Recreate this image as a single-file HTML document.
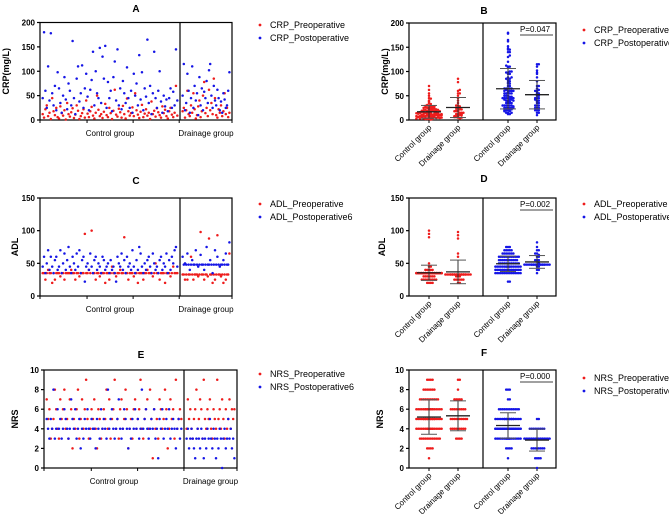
<!DOCTYPE html>
<html><head><meta charset="utf-8"><style>
body{margin:0;background:#fff}
svg{display:block;font-family:"Liberation Sans",Arial,sans-serif}
</style></head><body>
<svg id="fig" width="669" height="514" viewBox="0 0 669 514" xmlns="http://www.w3.org/2000/svg"></svg>
<script>
// ===== Data =====
const groups = ["Control group","Drainage group"];
const crpPreCtrl = [12,5,22,30,8,15,2,45,18,10,25,6,3,28,14,9,20,1,35,12,7,16,24,4,11,30,19,2,8,14,22,5,40,13,6,18,27,9,3,15,50,21,8,12,4,17,33,10,6,25,14,2,19,62,11,7,23,16,5,29,12,3,44,18,9,14,26,8,55,20,11,4,17,31,6,13,22,9,15,2,38,12,19,7,24,16,10,5,28,14,21,8,3,18,25,11,6,15,70,9];
const crpPostCtrl = [45,180,60,25,110,40,178,55,30,70,20,98,65,35,15,50,88,42,22,75,60,30,162,45,12,85,110,38,55,112,25,65,95,48,20,62,82,140,30,100,55,45,148,35,130,85,152,25,78,45,60,18,88,120,40,145,30,65,22,80,55,35,108,45,25,60,15,95,50,75,30,133,42,98,20,65,48,165,35,70,12,55,140,45,25,60,100,38,15,50,28,42,18,45,65,25,58,30,145,40];
const crpPreDrain = [18,25,5,20,60,12,8,30,15,55,22,3,10,28,40,6,18,50,78,14,25,8,62,20,35,12,85,45,10,5,22,15,30,8,18,55,12,25,6,15];
const crpPostDrain = [50,115,20,35,95,60,15,45,110,25,70,40,55,10,88,30,65,20,58,45,80,35,102,115,50,25,70,40,30,62,45,20,38,15,55,42,25,30,60,98];
const adlPreCtrl = [35,35,25,35,40,35,35,20,35,25,35,35,35,30,35,35,25,35,35,35,35,40,35,35,25,35,35,30,35,35,35,95,35,35,40,35,100,35,35,25,35,35,30,35,35,35,20,35,35,25,35,45,35,35,30,35,35,40,35,35,90,35,35,25,35,35,35,30,35,35,20,35,35,35,25,35,35,40,35,35,35,30,35,50,35,35,25,35,35,35,20,35,35,35,30,35,45,35,35,35];
const adlPostCtrl = [45,60,35,50,70,40,60,45,35,55,60,40,45,70,35,50,65,40,55,75,45,35,60,50,40,65,45,70,35,55,60,22,45,50,40,65,45,35,55,60,40,50,45,35,60,55,40,45,50,35,55,40,45,35,22,60,50,45,65,40,55,35,60,45,50,40,70,45,35,55,40,75,65,45,35,50,40,55,60,45,35,65,50,40,45,35,55,60,40,50,45,65,35,55,40,60,50,70,75,45];
const adlPreDrain = [33,33,25,33,25,33,33,60,33,25,33,33,33,30,33,98,33,33,25,33,33,30,88,33,33,20,33,25,33,93,33,33,30,33,20,33,25,33,33,65];
const adlPostDrain = [60,48,50,48,65,48,40,48,55,48,48,70,48,45,48,63,48,48,40,48,75,48,48,55,48,35,48,70,48,60,48,45,48,48,55,48,65,48,48,82];
const nrsPreCtrl = [7,5,6,3,4,5,8,6,4,3,7,5,6,8,4,5,3,7,6,2,5,4,6,8,3,5,7,4,6,9,5,3,4,6,5,7,4,2,6,5,3,4,6,5,8,4,7,3,5,6,9,4,5,3,6,7,4,5,8,6,2,4,5,3,6,7,4,5,6,9,4,3,5,6,7,4,8,5,1,6,4,5,3,7,6,4,5,8,6,2,4,7,5,6,3,9,4,5,6,5];
const nrsPostCtrl = [5,4,3,5,4,8,3,4,6,4,5,3,4,6,5,4,3,4,7,5,4,6,3,4,5,2,4,3,5,4,6,4,3,5,4,4,2,5,4,3,6,4,5,4,3,8,4,5,6,4,3,4,5,7,4,3,4,6,5,4,2,4,3,5,4,6,4,5,3,4,8,4,5,6,4,3,4,5,4,6,3,4,1,5,4,6,3,4,5,4,6,3,4,5,4,2,4,5,3,4];
const nrsPreDrain = [4,7,5,6,4,3,5,6,8,4,5,7,6,3,9,5,4,6,5,7,4,3,6,5,4,9,5,6,4,7,5,3,6,4,5,7,4,6,5,6];
const nrsPostDrain = [3,4,2,3,4,3,2,1,3,4,3,2,4,3,1,3,2,4,3,5,3,2,4,3,1,3,2,4,3,0,3,4,2,3,5,3,4,2,3,1];
const crpTicks = [0,50,100,150,200];
const adlTicks = [0,50,100,150];
const nrsTicks = [0,2,4,6,8,10];
const pValues = ["P=0.047","P=0.002","P=0.000"];

// ===== Helpers =====
const NS="http://www.w3.org/2000/svg";
const svg=document.getElementById('fig');
function el(tag,attrs,parent,text){const e=document.createElementNS(NS,tag);for(const k in attrs)e.setAttribute(k,attrs[k]);if(text!==undefined)e.textContent=text;(parent||svg).appendChild(e);return e;}
const RED="#ee1c1c", BLUE="#1515e6";
function mean(a){return a.reduce((s,v)=>s+v,0)/a.length;}
function sd(a){const m=mean(a);return Math.sqrt(a.reduce((s,v)=>s+(v-m)*(v-m),0)/(a.length-1));}

function yAxis(g,x0,yTop,yBot,ymax,ticks,ytitle,titleX){
  const ys=v=>yBot-(v/ymax)*(yBot-yTop);
  ticks.forEach(t=>{
    const l=el('line',{x1:x0-3,x2:x0,y1:ys(t),y2:ys(t),stroke:'#000','stroke-width':1.2},g);
    
    
    const tx=el('text',{x:x0-5,y:ys(t)+3,'text-anchor':'end','font-size':8,'font-weight':'bold'},g,t);
    
    
  });
  const cy=(yTop+yBot)/2;
  const tt=el('text',{x:titleX,y:cy,'text-anchor':'middle','font-size':9,'font-weight':'bold',transform:`rotate(-90 ${titleX} ${cy})`},g,ytitle);
  
  
  return ys;
}
function legend(g,x,y,labels){
  labels.forEach((lb,i)=>{
    const c=el('circle',{cx:x,cy:y+i*13-3,r:1.4,fill:i?BLUE:RED},g);
    
    
    const t=el('text',{x:x+10,y:y+i*13,'font-size':9},g,lb);
    
    
  });
}

function scatterPanel(o){
  const g=el('g',{});
  
  
  const t=el('text',{x:o.titleX,y:o.titleY,'text-anchor':'middle','font-size':10,'font-weight':'bold'},g,o.title);
  
  
  const ys=yAxis(g,o.x0,o.yTop,o.yBot,o.ymax,o.ticks,o.ytitle,o.yTitleX);
  const r=el('rect',{x:o.x0,y:o.yTop,width:o.x1-o.x0,height:o.yBot-o.yTop,fill:'none',stroke:'#000','stroke-width':1.2},g);
  
  
  const d=el('line',{x1:o.xDiv,x2:o.xDiv,y1:o.yTop,y2:o.yBot,stroke:'#000','stroke-width':1.2},g);
  
  
  [0,0.245,0.485,0.725,1].forEach(f=>{
    const x=o.x0+f*(o.x1-o.x0);
    const tk=el('line',{x1:x,x2:x,y1:o.yBot,y2:o.yBot+3,stroke:'#000','stroke-width':1},g);
    
    
  });
  const segs=[[o.x0,o.xDiv,o.pre[0],o.post[0]],[o.xDiv,o.x1,o.pre[1],o.post[1]]];
  segs.forEach((s,gi)=>{
    const [a,b,pre,post]=s;
    const xs=(i,n)=>a+2+(i+0.5)/n*(b-a-4);
    [[pre,RED],[post,BLUE]].forEach(([arr,col],si)=>{
      arr.forEach((v,i)=>{
        const c=el('circle',{cx:xs(i,arr.length),cy:ys(v),r:1.25,fill:col},g);
        
        
      });
    });
    const lb=el('text',{x:(a+b)/2,y:o.yBot+16,'text-anchor':'middle','font-size':8},g,groups[gi]);
    
    
  });
  legend(g,o.legX,o.legY,o.legend);
}

function columnPanel(o){
  const g=el('g',{});
  
  
  const t=el('text',{x:o.titleX,y:o.titleY,'text-anchor':'middle','font-size':10,'font-weight':'bold'},g,o.title);
  
  
  const ys=yAxis(g,o.x0,o.yTop,o.yBot,o.ymax,o.ticks,o.ytitle,o.yTitleX);
  const r=el('rect',{x:o.x0,y:o.yTop,width:o.x1-o.x0,height:o.yBot-o.yTop,fill:'none',stroke:'#000','stroke-width':1.2},g);
  
  
  const d=el('line',{x1:o.xDiv,x2:o.xDiv,y1:o.yTop,y2:o.yBot,stroke:'#000','stroke-width':1.2},g);
  
  
  const cols=[o.pre[0],o.pre[1],o.post[0],o.post[1]];
  cols.forEach((arr,ci)=>{
    const cx=o.cols[ci], col=ci<2?RED:BLUE;
    const tk=el('line',{x1:cx,x2:cx,y1:o.yBot,y2:o.yBot+3,stroke:'#000','stroke-width':1},g);
    
    
    const bins={};
    arr.forEach(v=>{
      const b=Math.round(ys(v)/2.0);
      const k=bins[b]=(bins[b]||0)+1;
      const n=(k-1)%15;
      const off=(n%2?1:-1)*Math.ceil(n/2)*1.8;
      const c=el('circle',{cx:cx+off,cy:ys(v),r:1.25,fill:col},g);
      
      
    });
    const m=mean(arr), s=sd(arr);
    const lo=Math.max(0,m-s), hi=m+s;
    const wl=el('line',{x1:cx,x2:cx,y1:ys(lo),y2:ys(Math.min(hi,o.ymax)),stroke:'#333','stroke-width':1},g);
    
    
    [lo,hi].forEach(v=>{
      const cp=el('line',{x1:cx-8,x2:cx+8,y1:ys(v),y2:ys(v),stroke:'#555','stroke-width':1},g);
      
      
    });
    const ml=el('line',{x1:cx-12,x2:cx+12,y1:ys(m),y2:ys(m),stroke:'#222','stroke-width':1.3},g);
    
    
    const ly=o.yBot+8;
    const lb=el('text',{x:cx+3,y:ly,'text-anchor':'end','font-size':8,transform:`rotate(-45 ${cx+3} ${ly})`},g,groups[ci%2]);
    
    
  });
  const pt=el('text',{x:535,y:o.yTop+9,'text-anchor':'middle','font-size':8},g,o.p);
  
  
  const pl=el('line',{x1:520,x2:553,y1:o.yTop+12,y2:o.yTop+12,stroke:'#000','stroke-width':0.8},g);
  
  
  legend(g,o.legX,o.legY,o.legend);
}

// ===== Panels =====
scatterPanel({name:'panel-a',title:'A',titleX:136,titleY:12,x0:40,x1:232,xDiv:180,yTop:22.5,yBot:120,ymax:200,ticks:crpTicks,ytitle:'CRP(mg/L)',yTitleX:9,
  pre:[crpPreCtrl,crpPreDrain],post:[crpPostCtrl,crpPostDrain],legX:260,legY:28,legend:['CRP_Preoperative','CRP_Postoperative']});
columnPanel({name:'panel-b',title:'B',titleX:484,titleY:14,x0:409,x1:556,xDiv:483,yTop:23,yBot:120,ymax:200,ticks:crpTicks,ytitle:'CRP(mg/L)',yTitleX:388,
  cols:[429,458,508,537],pre:[crpPreCtrl,crpPreDrain],post:[crpPostCtrl,crpPostDrain],p:pValues[0],legX:584,legY:33,legend:['CRP_Preoperative','CRP_Postoperative']});
scatterPanel({name:'panel-c',title:'C',titleX:136,titleY:184,x0:40,x1:232,xDiv:180,yTop:198,yBot:296,ymax:150,ticks:adlTicks,ytitle:'ADL',yTitleX:18,
  pre:[adlPreCtrl,adlPreDrain],post:[adlPostCtrl,adlPostDrain],legX:260,legY:207,legend:['ADL_Preoperative','ADL_Postoperative6']});
columnPanel({name:'panel-d',title:'D',titleX:484,titleY:182,x0:409,x1:556,xDiv:483,yTop:198,yBot:296,ymax:150,ticks:adlTicks,ytitle:'ADL',yTitleX:385,
  cols:[429,458,508,537],pre:[adlPreCtrl,adlPreDrain],post:[adlPostCtrl,adlPostDrain],p:pValues[1],legX:584,legY:207,legend:['ADL_Preoperative','ADL_Postoperative']});
scatterPanel({name:'panel-e',title:'E',titleX:141,titleY:358,x0:44,x1:237,xDiv:184,yTop:370,yBot:468,ymax:10,ticks:nrsTicks,ytitle:'NRS',yTitleX:18,
  pre:[nrsPreCtrl,nrsPreDrain],post:[nrsPostCtrl,nrsPostDrain],legX:260,legY:377,legend:['NRS_Preoperative','NRS_Postoperative6']});
columnPanel({name:'panel-f',title:'F',titleX:484,titleY:356,x0:409,x1:556,xDiv:483,yTop:370,yBot:468,ymax:10,ticks:nrsTicks,ytitle:'NRS',yTitleX:383,
  cols:[429,458,508,537],pre:[nrsPreCtrl,nrsPreDrain],post:[nrsPostCtrl,nrsPostDrain],p:pValues[2],legX:584,legY:381,legend:['NRS_Preoperative','NRS_Postoperative6']});
</script>
</body></html>
